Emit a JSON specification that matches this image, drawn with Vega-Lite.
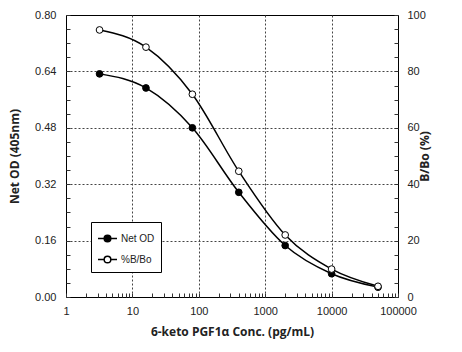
{
  "$schema": "https://vega.github.io/schema/vega-lite/v6.json",
  "width": 332,
  "height": 282,
  "autosize": {"type": "none"},
  "padding": {"left": 66, "top": 15, "right": 64, "bottom": 55},
  "background": "white",
  "config": {
    "view": {"stroke": "black", "strokeWidth": 1},
    "axis": {
      "labelFont": "Liberation Sans",
      "labelFontSize": 11,
      "labelColor": "#222",
      "titleFont": "Open Sans",
      "titleFontSize": 12,
      "titleFontWeight": "bold",
      "titleColor": "#222",
      "domain": false,
      "tickColor": "#333",
      "tickSize": -4,
      "tickWidth": 1,
      "gridColor": "#444",
      "gridDash": [2, 2],
      "gridWidth": 1
    }
  },
  "data": {
    "values": [
      {"conc": 3.2, "series": "Net OD", "value": 0.633},
      {"conc": 16, "series": "Net OD", "value": 0.593},
      {"conc": 80, "series": "Net OD", "value": 0.48},
      {"conc": 400, "series": "Net OD", "value": 0.297},
      {"conc": 2000, "series": "Net OD", "value": 0.146},
      {"conc": 10000, "series": "Net OD", "value": 0.066},
      {"conc": 50000, "series": "Net OD", "value": 0.028},
      {"conc": 3.2, "series": "%B/Bo", "value": 94.7},
      {"conc": 16, "series": "%B/Bo", "value": 88.6},
      {"conc": 80, "series": "%B/Bo", "value": 71.9},
      {"conc": 400, "series": "%B/Bo", "value": 44.6},
      {"conc": 2000, "series": "%B/Bo", "value": 22.0},
      {"conc": 10000, "series": "%B/Bo", "value": 9.9},
      {"conc": 50000, "series": "%B/Bo", "value": 3.8}
    ]
  },
  "encoding": {
    "x": {
      "field": "conc",
      "type": "quantitative",
      "scale": {"type": "log", "domain": [1, 100000], "nice": false},
      "axis": {
        "title": "6-keto PGF1α Conc. (pg/mL)",
        "values": [1,2,3,4,5,6,7,8,9,10,20,30,40,50,60,70,80,90,100,200,300,400,500,600,700,800,900,1000,2000,3000,4000,5000,6000,7000,8000,9000,10000,20000,30000,40000,50000,60000,70000,80000,90000,100000],
        "format": "d",
        "labelExpr": "indexof([1,10,100,1000,10000,100000], datum.value) >= 0 ? datum.label : ''",
        "labelPadding": 12,
        "labelFlush": false,
        "labelOverlap": false,
        "grid": true,
        "gridOpacity": {"condition": {"test": "indexof([10,100,1000,10000], datum.value) >= 0", "value": 1}, "value": 0},
        "titlePadding": 10
      }
    }
  },
  "layer": [
    {
      "transform": [{"filter": "datum.series === 'Net OD'"}],
      "encoding": {
        "y": {
          "field": "value",
          "type": "quantitative",
          "scale": {"domain": [0, 0.8], "nice": false},
          "axis": {
            "orient": "left",
            "title": "Net OD (405nm)",
            "values": [0,0.04,0.08,0.12,0.16,0.2,0.24,0.28,0.32,0.36,0.4,0.44,0.48,0.52,0.56,0.6,0.64,0.68,0.72,0.76,0.8],
            "format": ".2f",
            "labelExpr": "indexof([0,0.16,0.32,0.48,0.64,0.8], datum.value) >= 0 ? datum.label : ''",
            "labelPadding": 14,
            "labelFlush": false,
            "labelOverlap": false,
            "grid": true,
            "gridOpacity": {"condition": {"test": "indexof([0.16,0.32,0.48,0.64], datum.value) >= 0", "value": 1}, "value": 0},
            "titlePadding": 13
          }
        }
      },
      "layer": [
        {"mark": {"type": "line", "interpolate": "monotone", "color": "black", "strokeWidth": 1.5}},
        {
          "mark": {"type": "point", "shape": "circle", "filled": true, "size": 45, "stroke": "black", "strokeWidth": 1, "opacity": 1},
          "encoding": {
            "fill": {
              "field": "series",
              "type": "nominal",
              "scale": {"domain": ["Net OD", "%B/Bo"], "range": ["black", "white"]},
              "legend": {
                "title": null,
                "orient": "none",
                "legendX": 25,
                "legendY": 207,
                "symbolType": "M-1,0H-0.35M0.35,0H1M0.35,0A0.35,0.35,0,1,1,-0.35,0A0.35,0.35,0,1,1,0.35,0",
                "symbolSize": 361,
                "symbolStrokeColor": "black",
                "symbolStrokeWidth": 1.5,
                "labelFont": "Liberation Sans",
                "labelFontSize": 10,
                "labelColor": "#222",
                "labelOffset": 3,
                "strokeColor": "black",
                "fillColor": "white",
                "padding": 6,
                "rowPadding": 4
              }
            }
          }
        }
      ]
    },
    {
      "transform": [{"filter": "datum.series === '%B/Bo'"}],
      "encoding": {
        "y": {
          "field": "value",
          "type": "quantitative",
          "scale": {"domain": [0, 100], "nice": false},
          "axis": {
            "orient": "right",
            "title": "B/Bo (%)",
            "titleAngle": 270,
            "values": [0,5,10,15,20,25,30,35,40,45,50,55,60,65,70,75,80,85,90,95,100],
            "labelExpr": "datum.value % 20 == 0 ? datum.label : ''",
            "labelPadding": 13,
            "labelFlush": false,
            "labelOverlap": false,
            "grid": false,
            "titlePadding": 6
          }
        }
      },
      "layer": [
        {"mark": {"type": "line", "interpolate": "monotone", "color": "black", "strokeWidth": 1.5}},
        {
          "mark": {"type": "point", "shape": "circle", "filled": true, "size": 45, "stroke": "black", "strokeWidth": 1, "opacity": 1},
          "encoding": {
            "fill": {
              "field": "series",
              "type": "nominal",
              "scale": {"domain": ["Net OD", "%B/Bo"], "range": ["black", "white"]}
            }
          }
        }
      ]
    }
  ],
  "resolve": {"scale": {"y": "independent"}}
}
